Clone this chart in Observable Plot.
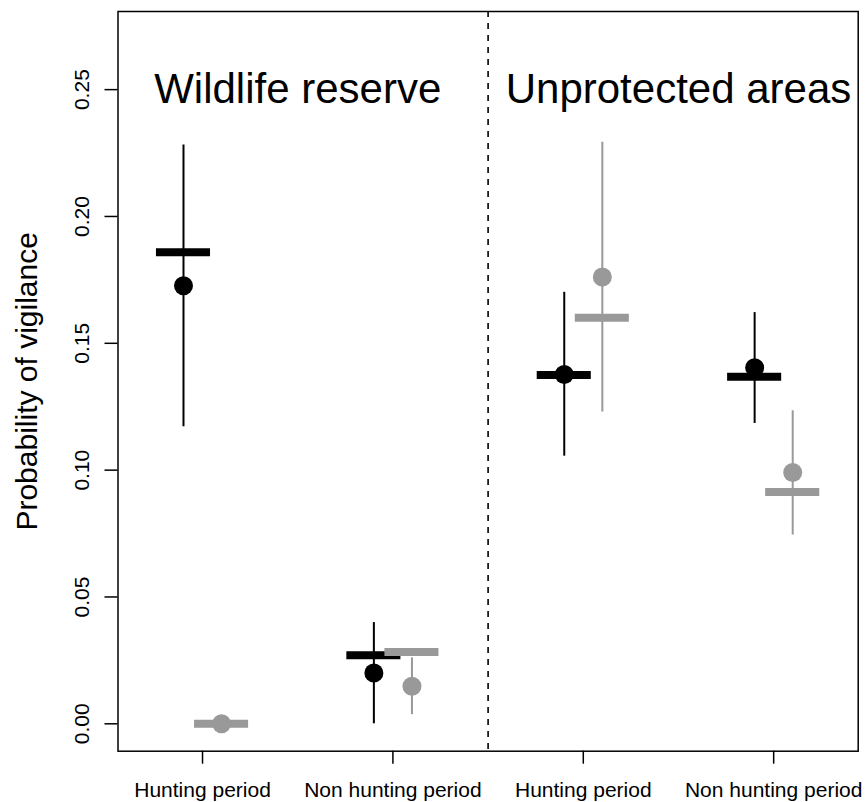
<!DOCTYPE html>
<html>
<head>
<meta charset="utf-8">
<script src="https://cdn.jsdelivr.net/npm/d3@7"></script>
<script src="https://cdn.jsdelivr.net/npm/@observablehq/plot@0.6"></script>
<style>
  html, body { margin: 0; padding: 0; background: #fff; }
  svg { display: block; }
</style>
</head>
<body>
<div id="chart"></div>
<script>
// ---- data ----
const positions = [1, 2, 3, 4];
const periods = ["Hunting period", "Non hunting period", "Hunting period", "Non hunting period"];
const areaNames = ["Wildlife reserve", "Unprotected areas"];
const areaCenters = [1.5, 3.5];
const dividerAt = [2.5];
const yTicks = [0, 0.05, 0.10, 0.15, 0.20, 0.25];
const yTitle = "Probability of vigilance";

const seriesNames = ["black", "grey"];
const observedBlack  = [0.1727, 0.0200, 0.1377, 0.1404];
const lowerBlack     = [0.1171, 0.0000, 0.1055, 0.1184];
const upperBlack     = [0.2282, 0.0399, 0.1701, 0.1621];
const predictedBlack = [0.1859, 0.0270, 0.1375, 0.1368];

const observedGrey  = [0.0000, 0.0148, 0.1761, 0.0991];
const lowerGrey     = [0.0000, 0.0036, 0.1229, 0.0744];
const upperGrey     = [0.0000, 0.0260, 0.2293, 0.1234];
const predictedGrey = [0.0000, 0.0283, 0.1601, 0.0914];

// ---- styling / layout constants ----
const colors = {black: "#000000", grey: "#999999"};
const offsets = {black: -0.1, grey: 0.1};
const halfBar = 0.142;
const font = "'Liberation Sans', Arial, Helvetica, sans-serif";

const rows = [];
positions.forEach((p, i) => {
  rows.push({series: "black", pos: p, obs: observedBlack[i], lo: lowerBlack[i], hi: upperBlack[i], pred: predictedBlack[i]});
  rows.push({series: "grey", pos: p, obs: observedGrey[i], lo: lowerGrey[i], hi: upperGrey[i], pred: predictedGrey[i]});
});
const xOf = d => d.pos + offsets[d.series];

const chart = Plot.plot({
  width: 865,
  height: 802,
  marginLeft: 117.5,
  marginRight: 7.3,
  marginTop: 11,
  marginBottom: 51.3,
  style: {fontFamily: font, background: "#fff", color: "#000"},
  x: {domain: [0.556, 4.444], label: null},
  y: {domain: [-0.0108, 0.2808], label: null},
  marks: [
    Plot.frame({stroke: "#000", strokeWidth: 1.5}),
    Plot.ruleX(dividerAt, {stroke: "#000", strokeWidth: 1.6, strokeDasharray: "6,6"}),
    Plot.axisY(yTicks, {
      tickFormat: d3.format(".2f"), tickSize: 13, tickPadding: 16, tickRotate: -90,
      fontSize: 21, strokeWidth: 1.5, label: null
    }),
    Plot.axisX(positions, {
      tickFormat: d => periods[positions.indexOf(d)], tickSize: 13, tickPadding: 18,
      fontSize: 21, strokeWidth: 1.5, label: null
    }),
    Plot.text([yTitle], {frameAnchor: "left", dx: -91, rotate: -90, fontSize: 30, textAnchor: "middle", lineAnchor: "middle", fill: "#000"}),
    Plot.text(areaNames, {x: (d, i) => areaCenters[i], y: 0.25, fontSize: 42, lineAnchor: "middle", fill: "#000"}),
    Plot.ruleX(rows, {x: xOf, y1: "lo", y2: "hi", stroke: d => colors[d.series], strokeWidth: 2}),
    Plot.ruleY(rows, {y: "pred", x1: d => xOf(d) - halfBar, x2: d => xOf(d) + halfBar, stroke: d => colors[d.series], strokeWidth: 8}),
    Plot.dot(rows, {x: xOf, y: "obs", r: 9.5, fill: d => colors[d.series], stroke: "none"})
  ]
});
document.getElementById("chart").appendChild(chart);
</script>
</body>
</html>
